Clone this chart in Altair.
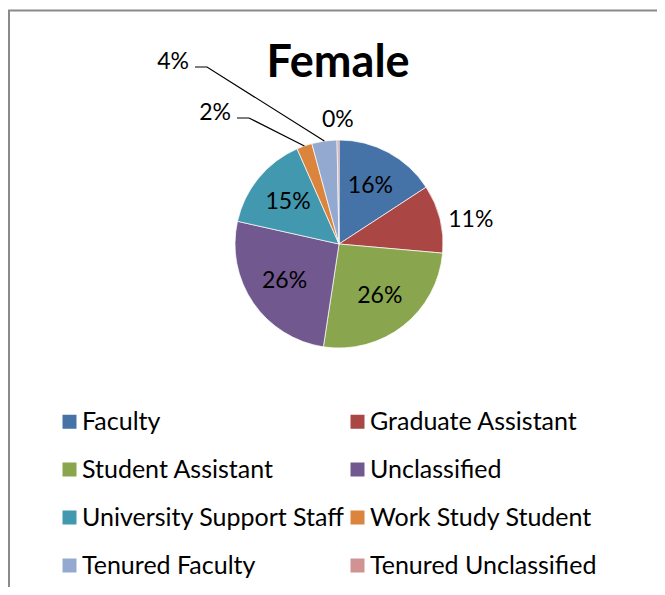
import math
import altair as alt
import pandas as pd

# ---- data ----
categories = ["Faculty", "Graduate Assistant", "Student Assistant", "Unclassified",
              "University Support Staff", "Work Study Student", "Tenured Faculty",
              "Tenured Unclassified"]
shares = [15.8, 10.6, 26.0, 26.1, 14.9, 2.4, 3.9, 0.3]
colors = ["#4572A7", "#AA4643", "#89A54E", "#71588F", "#4198AF", "#DB843D",
          "#93A9CF", "#D19392"]
title_text = "Female"
leader_cats = ["Work Study Student", "Tenured Faculty"]
outside_cats = ["Graduate Assistant", "Tenured Unclassified"]

# ---- styling / layout ----
W, H = 649, 579
CX, CY, R = 331, 236, 104
FONT = "Lato"
LABEL_SIZE = 23
LEGEND_SIZE = 25
INNER_R, OUTER_R, ZERO_R = 66, 134, 124
OUTER_SHIFT = 0.063  # best-fit nudge of the outside label (radians)
# label anchors (right edge x, centre y) for the labels with leader lines
leader_anchor = {"Work Study Student": (223, 105), "Tenured Faculty": (181, 54)}

df = pd.DataFrame({"cat": categories, "value": shares, "idx": list(range(len(categories)))})

# legend fills column by column: reorder so it reads row by row like the reference
legend_order = categories[0::2] + categories[1::2]

# leader line geometry derived from the slice mid-angles
total = sum(shares)
cum = 0.0
mids = {}
for c, v in zip(categories, shares):
    a0 = cum / total * 2 * math.pi
    cum += v
    a1 = cum / total * 2 * math.pi
    mids[c] = (a0 + a1) / 2

line_rows, lab_rows = [], []
for c in leader_cats:
    lx, ly = leader_anchor[c]
    m = mids[c]
    ex, ey = CX + R * math.sin(m), CY - R * math.cos(m)
    pts = [(lx + 6, ly + 5), (lx + 18, ly + 5), (ex, ey)]
    for k, (px, py) in enumerate(pts):
        line_rows.append({"cat": c, "k": k, "px": px, "py": py})
    v = shares[categories.index(c)]
    lab_rows.append({"cat": c, "lx": lx, "ly": ly, "label": f"{round(v)}%"})
lines_df = pd.DataFrame(line_rows)
labs_df = pd.DataFrame(lab_rows)
one = pd.DataFrame({"t": [title_text]})

border_color = "#8A8A8A"
border_top = alt.Chart(one).mark_rule(color=border_color, strokeWidth=2).encode(
    x=alt.value(0), x2=alt.value(W), y=alt.value(2.5))
border_left = alt.Chart(one).mark_rule(color=border_color, strokeWidth=2).encode(
    x=alt.value(1), y=alt.value(2), y2=alt.value(H))

title = alt.Chart(one).mark_text(
    font=FONT, fontSize=45, fontWeight="bold", color="black",
    align="center", baseline="alphabetic",
).encode(text="t:N", x=alt.value(330), y=alt.value(69))

arcs = alt.Chart(df).mark_arc(outerRadius=R, stroke="white", strokeWidth=0.7).encode(
    theta=alt.Theta("value:Q", stack=True),
    order=alt.Order("idx:Q"),
    color=alt.Color(
        "cat:N",
        sort=categories,
        scale=alt.Scale(domain=categories, range=colors),
        legend=alt.Legend(
            title=None, orient="none", legendX=49, legendY=401, columns=2,
            values=legend_order,
            symbolType="square", symbolSize=196, symbolStrokeWidth=0,
            labelFont=FONT, labelFontSize=LEGEND_SIZE, labelColor="black",
            labelOffset=0, rowPadding=22, columnPadding=-2, padding=0,
            labelLimit=400,
        ),
    ),
    x=alt.value(CX), y=alt.value(CY),
)

hidden = " || ".join([f"datum.cat == '{c}'" for c in leader_cats])
labels = alt.Chart(df).transform_window(
    cum="sum(value)", sort=[alt.SortField("idx", order="ascending")]
).transform_joinaggregate(
    total="sum(value)"
).transform_calculate(
    mid=f"(datum.cum - datum.value / 2) / datum.total * 2 * PI + (datum.cat == '{outside_cats[0]}' ? {OUTER_SHIFT} : 0)",
    label=f"({hidden}) ? '' : format(datum.value, '.0f') + '%'",
    lr=f"datum.cat == '{outside_cats[0]}' ? {OUTER_R} : (datum.cat == '{outside_cats[1]}' ? {ZERO_R} : {INNER_R})",
).mark_text(font=FONT, fontSize=LABEL_SIZE, color="black").encode(
    theta=alt.Theta("mid:Q", scale=None, stack=False),
    radius=alt.Radius("lr:Q", scale=None),
    text="label:N",
    x=alt.value(CX), y=alt.value(CY),
)

leader_lines = alt.Chart(lines_df).mark_line(color="black", strokeWidth=1.2).encode(
    x=alt.X("px:Q", scale=None, axis=None),
    y=alt.Y("py:Q", scale=None, axis=None),
    detail="cat:N",
    order="k:Q",
)

leader_labels = alt.Chart(labs_df).mark_text(
    font=FONT, fontSize=LABEL_SIZE, color="black", align="right", baseline="middle"
).encode(
    x=alt.X("lx:Q", scale=None, axis=None),
    y=alt.Y("ly:Q", scale=None, axis=None),
    text="label:N",
)

chart = alt.layer(border_top, border_left, title, arcs, labels, leader_lines, leader_labels).properties(
    width=W, height=H,
    autosize=alt.AutoSizeParams(type="none"),
    padding=0,
    background="white",
).configure_view(stroke=None)

chart.save("out.html", embed_options={"renderer": "svg", "actions": False})
